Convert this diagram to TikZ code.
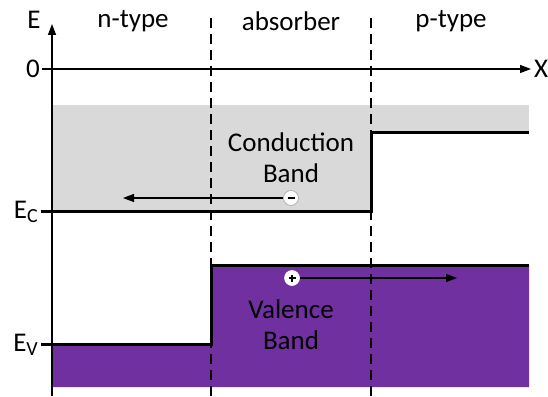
\documentclass[tikz,border=0pt]{standalone}
\usepackage{fontspec}
\setmainfont{Carlito}
\usetikzlibrary{arrows.meta}
\definecolor{cbgray}{HTML}{D9D9D9}
\definecolor{vbpurple}{HTML}{7030A0}
\tikzset{
  axis/.style={line width=1.4pt, -{Triangle[length=11pt,width=8pt]}},
  bandedge/.style={line width=3pt},
  tickmark/.style={line width=3pt},
  boundary/.style={line width=1.3pt, dash pattern=on 10pt off 6pt},
  carrierpath/.style={line width=1.3pt, -{Triangle[length=11pt,width=8pt]}},
  carrier/.style={circle, draw=gray!70, line width=0.6pt, fill=white, inner sep=0pt, minimum size=15pt},
  lbl/.style={font=\fontsize{27}{31}\selectfont, align=center, inner sep=0pt},
}
\newcommand{\sublbl}[1]{E\raisebox{-0.35ex}{\fontsize{20}{23}\selectfont #1}}
\begin{document}
\begin{tikzpicture}[x=1pt, y=-1pt]
\useasboundingbox (0,0) rectangle (548,396);
% band regions
\fill[cbgray] (52,105) rectangle (529,211);
\fill[white] (371,132) rectangle (529,212);
\fill[vbpurple] (52,344) -- (211,344) -- (211,265) -- (529,265) -- (529,387) -- (52,387) -- cycle;
% band edges
\draw[bandedge] (52,211) -- (371,211) -- (371,132) -- (529,132);
\draw[bandedge] (52,344) -- (211,344) -- (211,265) -- (529,265);
% region boundaries
\draw[boundary] (211,18) -- (211,396);
\draw[boundary] (371,18) -- (371,396);
% axes
\coordinate (yfoot) at (52,396);
\coordinate (ytop) at (52,24);
\coordinate (xfoot) at (42,69);
\coordinate (xend) at (531,69);
\draw[axis] (yfoot) -- (ytop);
\draw[axis] (xfoot) -- (xend);
\node[lbl, anchor=center] (elbl) at (34,20) {E};
\node[lbl, anchor=center] (xlbl) at (541,69) {X};
\node[lbl, anchor=center] (zero) at (33,69) {0};
% level ticks and labels
\coordinate (ect) at (41,211);
\coordinate (evt) at (41,344);
\draw[tickmark] (ect) -- (52,211);
\draw[tickmark] (evt) -- (52,344);
\node[lbl, anchor=east] (eclbl) at (38,212) {\sublbl{C}};
\node[lbl, anchor=east] (evlbl) at (38,345) {\sublbl{V}};
% region names
\node[lbl] (ntype) at (133,21) {n-type};
\node[lbl] (absorb) at (291,21) {absorber};
\node[lbl] (ptype) at (451,21) {p-type};
% band names
\node[lbl] (cband) at (291,158) {Conduction\\Band};
\node[lbl] (vband) at (291,325) {Valence\\Band};
% carriers
\node[carrier] (elec) at (291,198) {};
\draw[line width=1.2pt] ([xshift=-3.5pt]elec.center) -- ([xshift=3.5pt]elec.center);
\coordinate (eend) at (123,198);
\draw[carrierpath] (elec.west) -- (eend);
\node[carrier, draw=white] (hole) at (292,278) {};
\draw[line width=1.2pt] ([xshift=-3.5pt]hole.center) -- ([xshift=3.5pt]hole.center)
  ([yshift=-3.5pt]hole.center) -- ([yshift=3.5pt]hole.center);
\coordinate (hend) at (457,278);
\draw[carrierpath] (hole.east) -- (hend);
\end{tikzpicture}
\end{document}
